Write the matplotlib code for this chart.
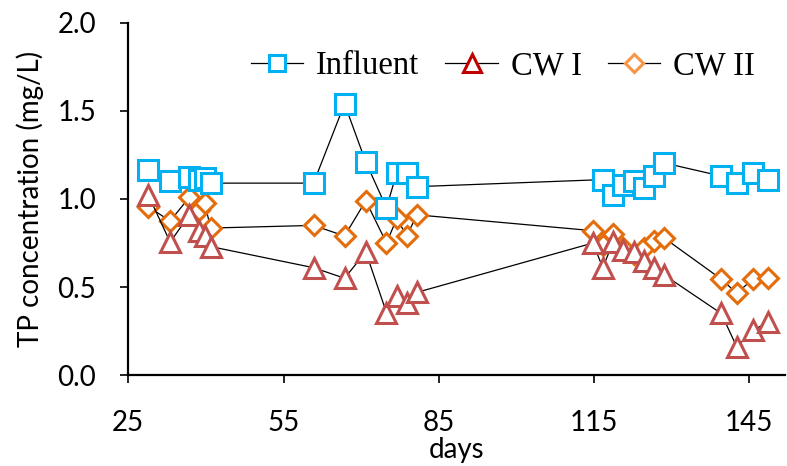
#!/usr/bin/env python
# -*- coding: utf-8 -*-

import matplotlib
matplotlib.use('Agg')
import matplotlib.pyplot as plt
from matplotlib.lines import Line2D

# Data
days_inf = [28.9, 33.1, 36.8, 38.6, 39.8, 40.9, 60.8, 66.8, 70.9, 74.9, 76.9,
            78.8, 80.8, 116.7, 118.7, 120.7, 122.7, 124.6, 126.6, 128.5,
            139.6, 142.6, 145.7, 148.7]
influent = [1.165, 1.10, 1.125, 1.11, 1.12, 1.09, 1.09, 1.54, 1.21, 0.95, 1.15,
            1.15, 1.07, 1.11, 1.02, 1.08, 1.10, 1.06, 1.13, 1.205,
            1.13, 1.09, 1.15, 1.11]

days_cw = [28.9, 33.1, 36.8, 38.6, 39.8, 40.9, 60.8, 66.8, 70.9, 74.9, 76.9,
           78.8, 80.8, 114.8, 116.7, 118.7, 120.7, 122.7, 124.6, 126.6, 128.5,
           139.6, 142.6, 145.7, 148.7]
cw1 = [1.02, 0.755, 0.91, 0.82, 0.79, 0.73, 0.61, 0.55, 0.70, 0.355, 0.45,
       0.41, 0.47, 0.75, 0.61, 0.755, 0.71, 0.70, 0.65, 0.61, 0.57,
       0.35, 0.16, 0.255, 0.30]
cw2 = [0.955, 0.875, 1.01, 0.94, 0.975, 0.835, 0.85, 0.79, 0.99, 0.75, 0.89,
       0.79, 0.91, 0.82, 0.74, 0.80, 0.72, 0.69, 0.72, 0.76, 0.78,
       0.545, 0.465, 0.545, 0.55]

x_ticks = [25, 55, 85, 115, 145]
y_ticks = [0.0, 0.5, 1.0, 1.5, 2.0]


def main():
    plt.rcParams['font.family'] = ['Lato', 'DejaVu Sans']

    fig = plt.figure(figsize=(7.87, 4.66), dpi=100)
    ax = fig.add_axes([0.163, 0.195, 0.835, 0.756])

    # Series (CW II first so the triangles sit on top, like the original)
    ax.plot(days_cw, cw2, color='black', lw=0.9, marker='D', ms=10,
            mec='#E46C0A', mfc='white', mew=2.2, zorder=2)
    ax.plot(days_cw, cw1, color='black', lw=0.9, marker='^', ms=15,
            mec='#C0504D', mfc='white', mew=2.2, zorder=3)
    ax.plot(days_inf, influent, color='black', lw=0.9, marker='s', ms=14,
            mec='#00B0F0', mfc='white', mew=2.2, zorder=4)

    # Axes
    ax.set_xlim(25, 152)
    ax.set_ylim(0, 2.0)
    ax.set_xticks(x_ticks)
    ax.set_yticks(y_ticks)
    ax.set_yticklabels(['%.1f' % v for v in y_ticks])
    ax.tick_params(axis='both', labelsize=20, width=1.2, length=6,
                   direction='out')
    ax.tick_params(axis='y', pad=17)
    ax.tick_params(axis='x', pad=19)
    for s in ['top', 'right']:
        ax.spines[s].set_visible(False)
    for s in ['left', 'bottom']:
        ax.spines[s].set_linewidth(1.6)

    ax.set_xlabel('days', fontsize=20, labelpad=1)
    ax.set_ylabel('TP concentration (mg/L)', fontsize=20, labelpad=10)

    # Legend
    handles = [
        Line2D([], [], color='black', lw=0.9, marker='s', ms=12,
               mec='#00B0F0', mfc='white', mew=2.2),
        Line2D([], [], color='black', lw=0.9, marker='^', ms=13,
               mec='#C00000', mfc='white', mew=2.2),
        Line2D([], [], color='black', lw=0.9, marker='D', ms=9,
               mec='#F79646', mfc='white', mew=2.2),
    ]
    ax.legend(handles, ['Influent', 'CW I', 'CW II'], loc='center',
              bbox_to_anchor=(0.57, 0.878), ncol=3, frameon=False,
              prop={'family': 'Liberation Serif', 'size': 23.5},
              handlelength=1.6, handletextpad=0.4, columnspacing=0.8)

    plt.savefig('out.png', format='png', dpi=100)


if __name__ == "__main__":
    main()
